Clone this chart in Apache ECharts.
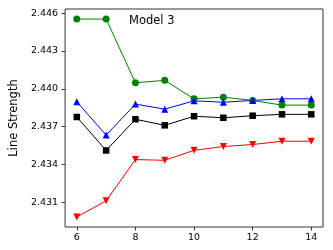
<!DOCTYPE html>
<html><head><meta charset="utf-8">
<script src="https://cdn.jsdelivr.net/npm/echarts@6/dist/echarts.min.js"></script>
<style>html,body{margin:0;padding:0;background:#fff}#c{width:333px;height:250px}</style>
</head><body><div id="c"></div>
<script>
const xValues = [6, 7, 8, 9, 10, 11, 12, 13, 14];
const greenCircle = [2.44552, 2.44552, 2.44048, 2.44067, 2.43921, 2.43934, 2.43908, 2.43871, 2.43871];
const blueTriangle = [2.43897, 2.43634, 2.43879, 2.43839, 2.43905, 2.43894, 2.43908, 2.43921, 2.43921];
const blackSquare = [2.43777, 2.43512, 2.43759, 2.43711, 2.43783, 2.43771, 2.43787, 2.43798, 2.43798];
const redTriangleDown = [2.42986, 2.43113, 2.43440, 2.43434, 2.43513, 2.43543, 2.43559, 2.43585, 2.43585];
const yTicks = [2.431, 2.434, 2.437, 2.440, 2.443, 2.446];
const xTicks = [6, 8, 10, 12, 14];
const titleText = 'Model 3';
const yName = 'Line Strength';

function pairs(vals){ return xValues.map((x,i)=>[x, vals[i]]); }
const font = 'DejaVu Sans';
function mk(name, data, color, symbol, size, rot){
  return {name, type:'line', data: pairs(data), symbol, symbolSize:size, symbolRotate: rot||0,
    lineStyle:{color, width:1}, itemStyle:{color}, animation:false, z: 3};
}
const chart = echarts.init(document.getElementById('c'), null, {renderer:'canvas'});
chart.setOption({
  animation:false,
  backgroundColor:'#fff',
  title:{text:titleText, left:124, top:10, textStyle:{fontFamily:font, fontSize:11.5, fontWeight:'normal', color:'#000'}},
  grid:{left:56, right:10, top:9, bottom:23, show:true, borderColor:'#333', borderWidth:1},
  xAxis:{type:'value', min:5.6, max:14.4,
    axisLine:{show:false}, splitLine:{show:false},
    axisTick:{show:true, length:3.5, customValues:xTicks, lineStyle:{color:'#333'}},
    axisLabel:{customValues:xTicks, margin:6, fontFamily:font, fontSize:9.5, color:'#000'}},
  yAxis:{type:'value', min:2.42906, max:2.44632, name:yName, nameLocation:'middle', nameGap:37,
    nameTextStyle:{fontFamily:font, fontSize:11.5, color:'#000'},
    axisLine:{show:false}, splitLine:{show:false},
    axisTick:{show:true, length:3.5, customValues:yTicks, lineStyle:{color:'#333'}},
    axisLabel:{customValues:yTicks, margin:7, fontFamily:font, fontSize:9.5, color:'#000', formatter:v=>v.toFixed(3)}},
  series:[
    mk('green', greenCircle, '#008000', 'circle', 7),
    mk('blue', blueTriangle, '#0000ff', 'triangle', 7),
    mk('black', blackSquare, '#000000', 'rect', 6.5),
    mk('red', redTriangleDown, '#ff0000', 'triangle', 7, 180)
  ]
});
</script></body></html>
